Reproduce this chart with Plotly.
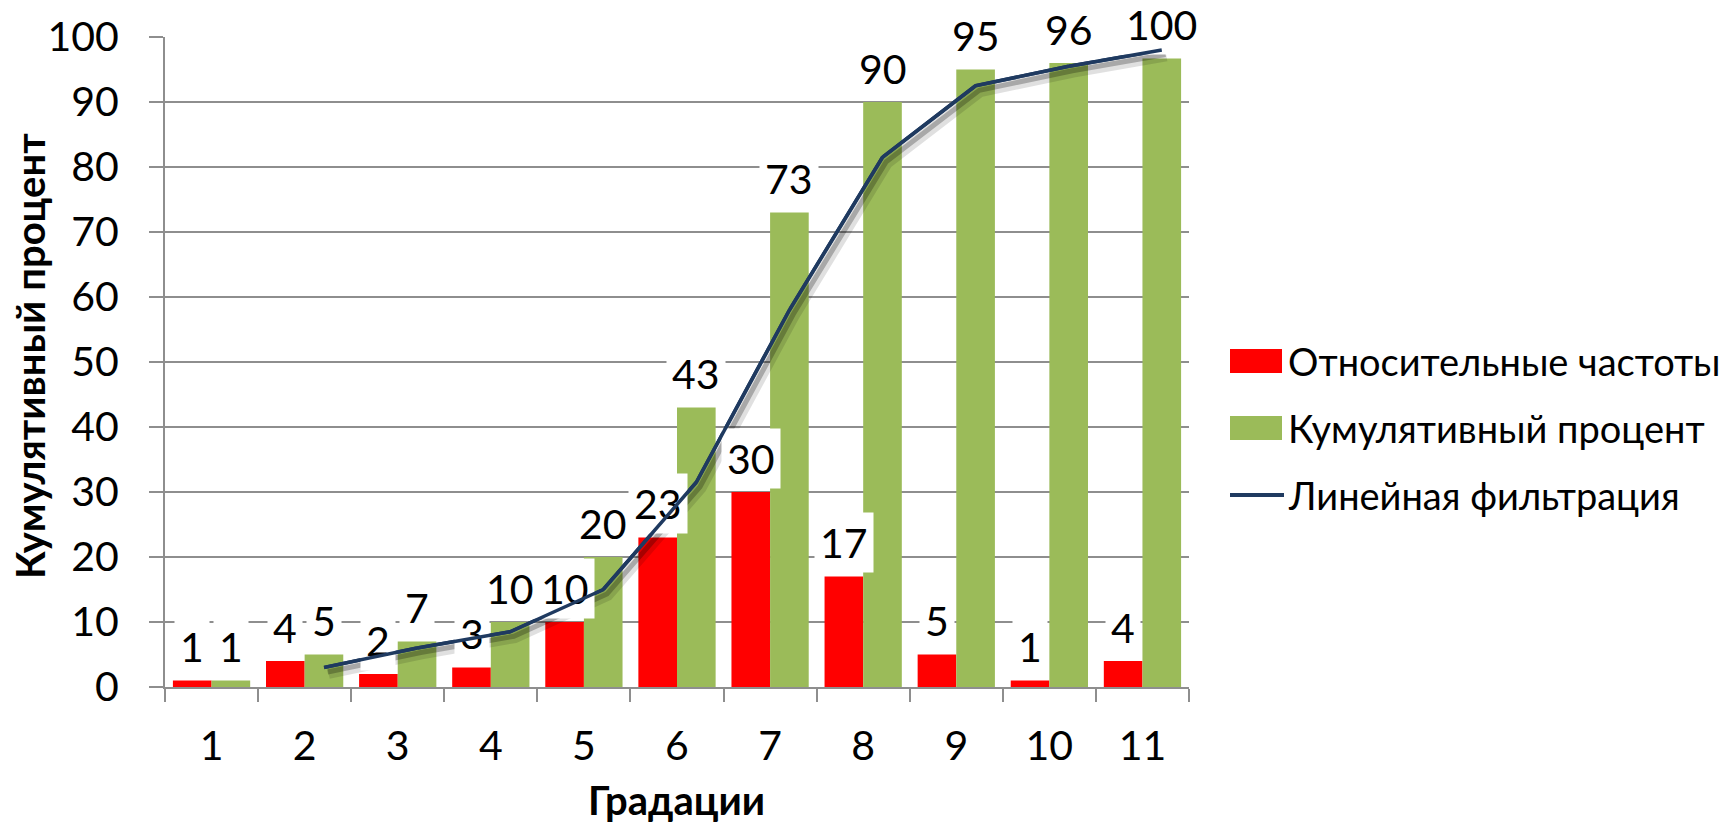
import plotly.graph_objects as go

# ---- data ----
gradations = [1, 2, 3, 4, 5, 6, 7, 8, 9, 10, 11]
rel_freq = [1, 4, 2, 3, 10, 23, 30, 17, 5, 1, 4]
rel_freq_labels = ["1", "4", "2", "3", "10", "23", "30", "17", "5", "1", "4"]
cum_pct = [1, 5, 7, 10, 20, 43, 73, 90, 95, 96, 96.7]
cum_pct_labels = ["1", "5", "7", "10", "20", "43", "73", "90", "95", "96", "100"]
filter_x = [2, 3, 4, 5, 6, 7, 8, 9, 10, 11]
filter_vals = [3, 6, 8.5, 15, 31.5, 58, 81.5, 92.5, 95.5, 98]
y_ticks = [0, 10, 20, 30, 40, 50, 60, 70, 80, 90, 100]

names = ["Относительные частоты", "Кумулятивный процент", "Линейная фильтрация"]
RED = "#FF0000"
GREEN = "#9BBB59"
NAVY = "#1F3A60"
GRID = "#8E8E8E"
FONT = "Lato"
NUM_SIZE = 41
LEG_SIZE = 38
TITLE_SIZE = 40

# ---- geometry ----
W_FIG, H_FIG = 1723, 824
L, T = 165, 37
PW, PH = 1024, 650
R = W_FIG - L - PW
B = H_FIG - T - PH
BARGAP = 0.17
OFF = (1 - BARGAP) / 4  # centre offset of each of two grouped bars


def px_x(px):
    return (px - L) / PW


def px_y(py):
    return (T + PH - py) / PH


fig = go.Figure()
fig.add_trace(go.Bar(x=gradations, y=rel_freq, name=names[0], marker_color=RED,
                     marker_line_width=0, showlegend=False))
fig.add_trace(go.Bar(x=gradations, y=cum_pct, name=names[1], marker_color=GREEN,
                     marker_line_width=0, showlegend=False))

line_x = [v + OFF for v in filter_x]
# soft shadow under the line
fig.add_trace(go.Scatter(x=[v + 0.05 for v in line_x], y=[v - 0.9 for v in filter_vals],
                         mode="lines", line=dict(color="rgba(0,0,0,0.12)", width=11),
                         hoverinfo="skip", showlegend=False))
fig.add_trace(go.Scatter(x=[v + 0.04 for v in line_x], y=[v - 0.7 for v in filter_vals],
                         mode="lines", line=dict(color="rgba(0,0,0,0.25)", width=5),
                         hoverinfo="skip", showlegend=False))
fig.add_trace(go.Scatter(x=line_x, y=filter_vals, name=names[2], mode="lines",
                         line=dict(color=NAVY, width=3.5), showlegend=False))

annotations = []
for g, v, t in zip(gradations, rel_freq, rel_freq_labels):
    annotations.append(dict(x=g - OFF, y=v, xref="x", yref="y", text=t, showarrow=False,
                            yanchor="middle", yshift=34, bgcolor="white", borderpad=5,
                            font=dict(family=FONT, size=NUM_SIZE, color="black")))
for g, v, t in zip(gradations, cum_pct, cum_pct_labels):
    annotations.append(dict(x=g + OFF, y=v, xref="x", yref="y", text=t, showarrow=False,
                            yanchor="middle", yshift=34, bgcolor="white", borderpad=5,
                            font=dict(family=FONT, size=NUM_SIZE, color="black")))

# redraw the filter line above the label boxes (as in the reference)
for i in range(len(line_x) - 1):
    annotations.append(dict(x=line_x[i + 1], y=filter_vals[i + 1], ax=line_x[i], ay=filter_vals[i],
                            xref="x", yref="y", axref="x", ayref="y", text="",
                            showarrow=True, arrowhead=0, arrowwidth=3.5, arrowcolor=NAVY,
                            standoff=0, startstandoff=0, borderpad=0,
                            font=dict(size=1)))

# axis titles
annotations.append(dict(x=px_x(30), y=px_y(356), xref="paper", yref="paper",
                        text="<b>Кумулятивный процент</b>", textangle=-90, showarrow=False,
                        xanchor="center", yanchor="middle",
                        font=dict(family=FONT, size=TITLE_SIZE, color="black")))
annotations.append(dict(x=px_x(676), y=px_y(800), xref="paper", yref="paper",
                        text="<b>Градации</b>", showarrow=False,
                        xanchor="center", yanchor="middle",
                        font=dict(family=FONT, size=TITLE_SIZE, color="black")))

# custom legend
shapes = []
legend_rows = [361, 428, 495]
shapes.append(dict(type="rect", xref="paper", yref="paper",
                   x0=px_x(1230), x1=px_x(1282), y0=px_y(373), y1=px_y(349),
                   fillcolor=RED, line_width=0))
shapes.append(dict(type="rect", xref="paper", yref="paper",
                   x0=px_x(1230), x1=px_x(1282), y0=px_y(440), y1=px_y(416),
                   fillcolor=GREEN, line_width=0))
shapes.append(dict(type="line", xref="paper", yref="paper",
                   x0=px_x(1230), x1=px_x(1284), y0=px_y(495), y1=px_y(495),
                   line=dict(color=NAVY, width=4)))
for name, row in zip(names, legend_rows):
    annotations.append(dict(x=px_x(1286), y=px_y(row), xref="paper", yref="paper",
                            text=name, showarrow=False, xanchor="left", yanchor="middle",
                            font=dict(family=FONT, size=LEG_SIZE, color="black")))

fig.update_layout(
    width=W_FIG, height=H_FIG,
    margin=dict(l=L, r=R, t=T, b=B, pad=0),
    paper_bgcolor="white", plot_bgcolor="white",
    barmode="group", bargap=BARGAP, bargroupgap=0,
    font=dict(family=FONT, size=NUM_SIZE, color="black"),
    annotations=annotations, shapes=shapes,
    showlegend=False,
)
fig.update_xaxes(
    range=[0.5, 11.5], tickvals=gradations, ticktext=[str(g) for g in gradations],
    ticks="", showgrid=False, zeroline=False,
    showline=True, linecolor=GRID, linewidth=2,
    ticklabelstandoff=22,
    tickfont=dict(family=FONT, size=NUM_SIZE, color="black"),
    minor=dict(tick0=0.5, dtick=1, ticks="outside", ticklen=13, tickwidth=2,
               tickcolor=GRID, showgrid=False),
)
fig.update_yaxes(
    range=[0, 100], tickvals=y_ticks, ticks="outside", ticklen=14, tickwidth=2,
    tickcolor=GRID, showgrid=True, gridcolor=GRID, gridwidth=2, zeroline=False,
    showline=True, linecolor=GRID, linewidth=2, ticklabelstandoff=22,
    tickfont=dict(family=FONT, size=NUM_SIZE, color="black"),
)

fig.write_html("out.html", config={"displayModeBar": False},
               post_script="document.body.style.margin='0';document.body.style.padding='0';")
